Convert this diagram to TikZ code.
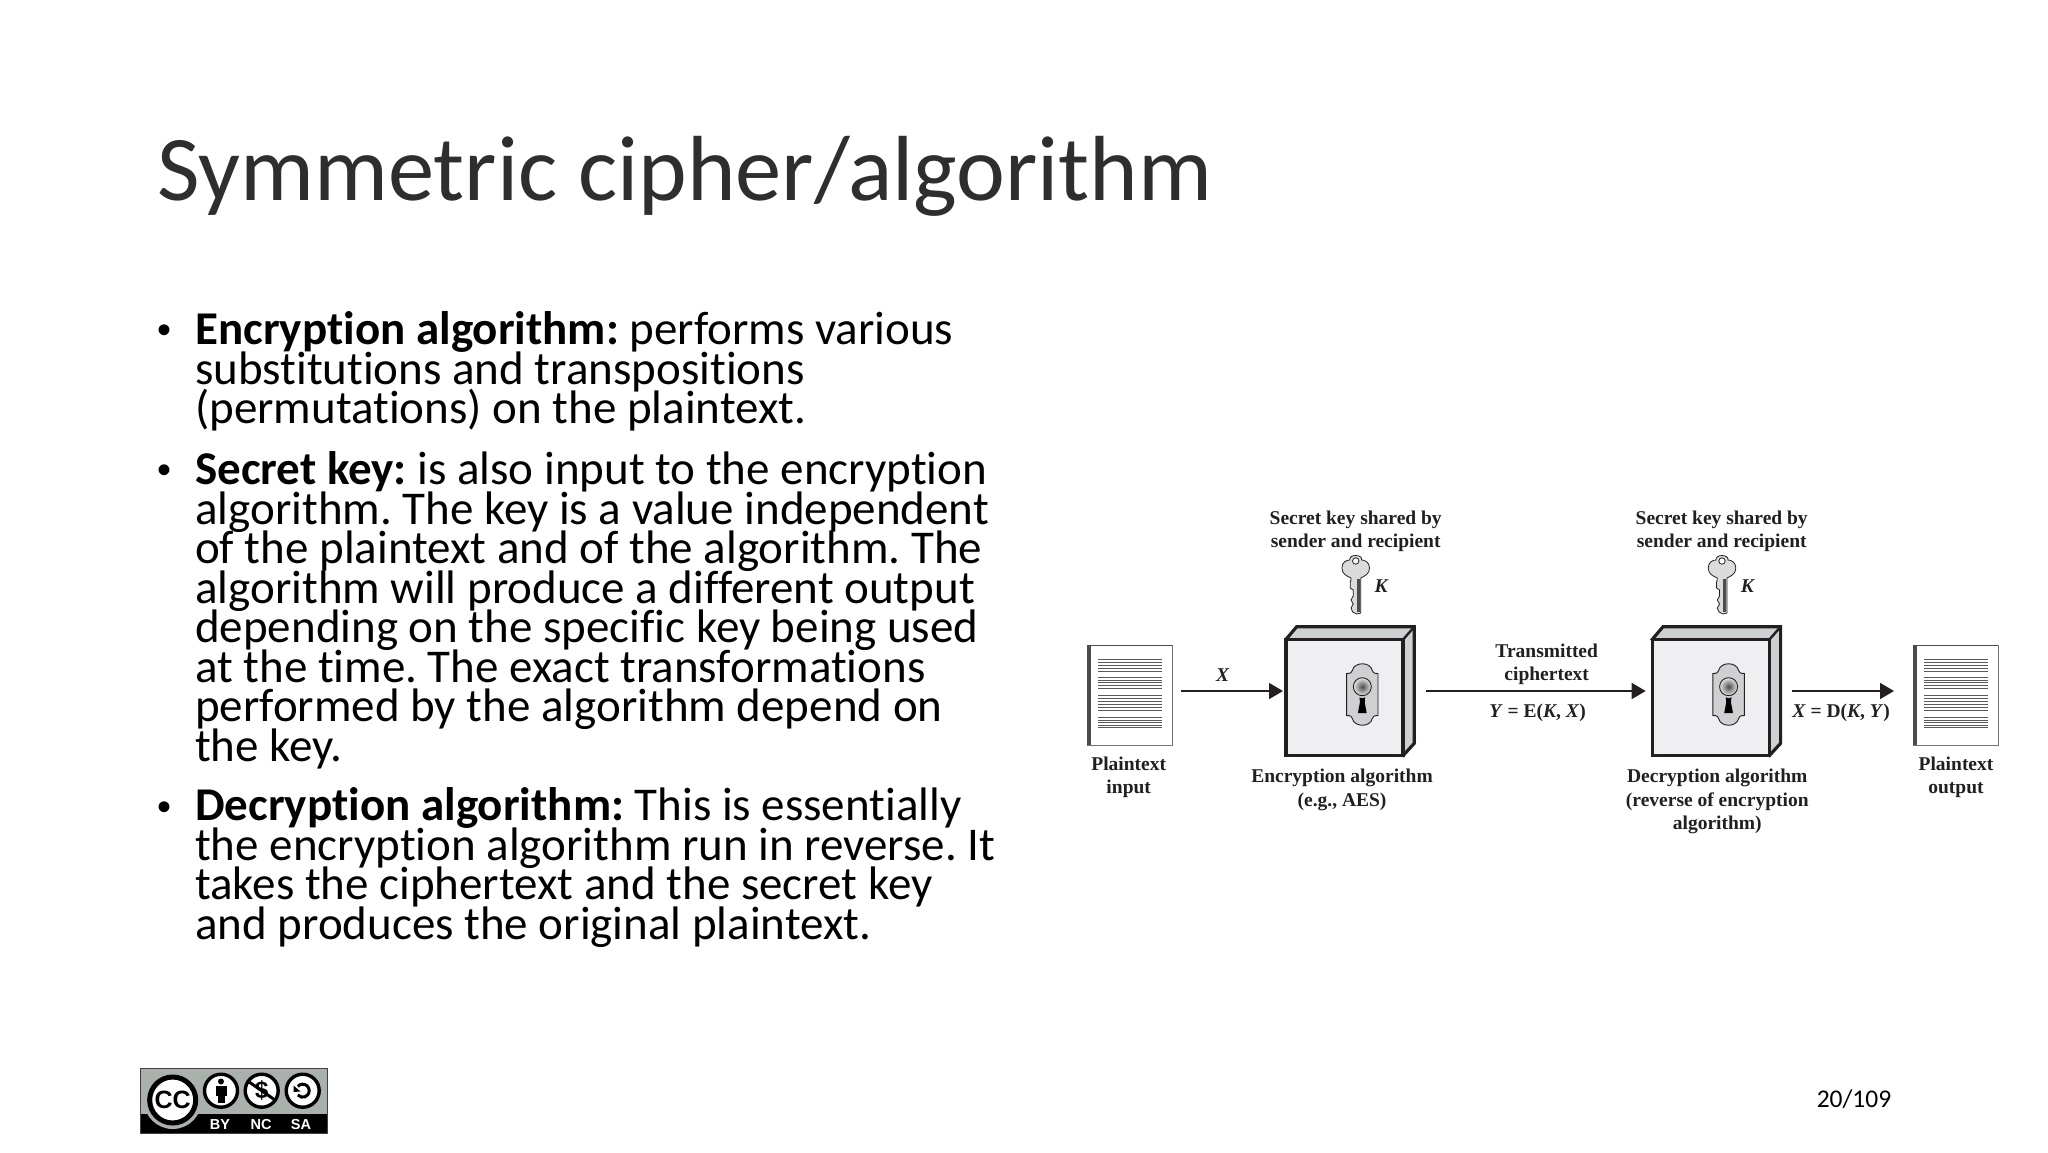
\documentclass[tikz,border=0pt]{standalone}
\usepackage{fontspec}
\setmainfont[Ligatures=CommonOff]{Carlito}
\newfontfamily\dgmfont{Liberation Serif}
\newfontfamily\logofont{Liberation Sans}
\usetikzlibrary{arrows.meta}
\AtBeginDocument{\frenchspacing\lineskiplimit=-200pt\relax}
\definecolor{boxfront}{HTML}{EFEFF1}
\definecolor{boxside}{HTML}{CFD0D2}
\definecolor{ink}{HTML}{231F20}
\definecolor{logogray}{HTML}{AAB0AC}
\tikzset{
  bodytext/.style={anchor=north west,inner sep=0pt,align=left,font=\fontsize{47}{39.5}\selectfont,text=black},
  bullet/.style={anchor=base,inner sep=0pt,font=\logofont\fontsize{40}{40}\selectfont},
  dlabel/.style={inner sep=0pt,align=center,text=ink,font=\dgmfont\bfseries\fontsize{19.5}{23.3}\selectfont},
  dmath/.style={dlabel,font=\dgmfont\bfseries\itshape\fontsize{19.5}{23.3}\selectfont},
  docbox/.style={draw=black!55,line width=1pt,fill=white,minimum width=85pt,minimum height=100pt,inner sep=0pt},
  frontbox/.style={draw=ink,line width=3.6pt,fill=boxfront,minimum width=117pt,minimum height=116pt,inner sep=0pt},
  flow/.style={draw=ink,line width=1.5pt,-{Triangle[length=14pt,width=16pt]}},
  logocircle/.style={draw=black,line width=3.4pt,fill=white},
  logotext/.style={inner sep=0pt,text=white,font=\logofont\bfseries\fontsize{14.5}{16}\selectfont},
  lockpic/.pic={
    \draw[draw=ink,line width=0.9pt,fill=boxside]
      (-15.7,-21) .. controls (-12,-21) and (-10,-22) .. (-10,-24)
      .. controls (-8,-33) and (8,-33) .. (10,-24)
      .. controls (10,-22) and (12,-21) .. (15.7,-21) -- (15.7,21)
      .. controls (12,21) and (10,22) .. (10,24)
      .. controls (8,33) and (-8,33) .. (-10,24)
      .. controls (-10,22) and (-12,21) .. (-15.7,21) -- cycle;
    \shade[inner color=black!70,outer color=black!10] (0,-7.8) circle (9);
    \draw[ink,line width=0.9pt] (0,-7.8) circle (9);
    \fill[black] (-2.8,2.5) .. controls (-2.8,4) and (2.8,4) .. (2.8,2.5)
      .. controls (2.8,5) and (2.2,6) .. (2.4,8) -- (4.4,18.5) -- (-4.4,18.5) -- (-2.4,8)
      .. controls (-2.2,6) and (-2.8,5) .. (-2.8,2.5) -- cycle;
  },
  keypic/.pic={
    \draw[draw=ink,line width=0.8pt,fill=black!14]
      (-4.7,10) .. controls (-9,8) and (-13.8,6) .. (-13.8,0)
      .. controls (-13.8,-6) and (-9,-8) .. (-6,-8)
      .. controls (-7,-14) and (7,-14) .. (6,-8)
      .. controls (9,-8) and (13.8,-6) .. (13.8,0)
      .. controls (13.8,6) and (9,8) .. (5,10)
      -- (5,45) -- (1,46) -- (-3,44) -- (-4.7,40) -- (-2.5,36) -- (-4.7,32)
      -- (-2.5,28) -- (-2.5,22) -- (-5.5,20) -- (-5.5,14) -- (-4.7,12) -- cycle;
    \draw[draw=ink,line width=0.8pt,fill=white] (0,-7) circle (3.2);
    \fill[black!70] (1,11) rectangle (4,44);
  },
  docpic/.pic={
    \foreach \ly in {14,17,20,23,26,32.3,35,37.7,40.3,43,50.7,53.7,56.7,59.7,62.7,65.7,72.3,75,77.6,80.2,82.7}
      \draw[black!65,line width=1pt] (11,\ly) -- (75,\ly);
    \draw[black!70,line width=3.6pt] (1.8,0) -- (1.8,100);
    \draw[black!70,line width=1.6pt] (0,0.4) -- (85,0.4);
  }
}
\begin{document}
\begin{tikzpicture}[x=1pt,y=-1pt]
\useasboundingbox (0,0) rectangle (2048,1152);
\fill[white] (0,0) rectangle (2048,1152);

% title
\node[anchor=base west,inner sep=0pt,font=\fontsize{92.5}{100}\selectfont,text=black!82] (title) at (157,200) {Symmetric cipher/algorithm};

% body
\node[bullet] (b1) at (164.5,343) {•};
\node[bodytext] (p1) at (195,311.5) {\textbf{Encryption algorithm:} performs various\\substitutions and transpositions\\(permutations) on the plaintext.};
\node[bullet] (b2) at (164.5,483) {•};
\node[bodytext] (p2) at (195,451.5) {\textbf{Secret key:} is also input to the encryption\\algorithm. The key is a value independent\\of the plaintext and of the algorithm. The\\algorithm will produce a different output\\depending on the specific key being used\\at the time. The exact transformations\\performed by the algorithm depend on\\the key.};
\node[bullet] (b3) at (164.5,820) {•};
\node[bodytext] (p3) at (195,787.5) {\textbf{Decryption algorithm:} This is essentially\\the encryption algorithm run in reverse. It\\takes the ciphertext and the secret key\\and produces the original plaintext.};

% page number
\node[inner sep=0pt,font=\fontsize{25.5}{28}\selectfont] (pg) at (1854,1099) {20/109};

% documents
\node[docbox] (doc1) at (1129.7,695) {};
\pic at (1087.2,645) {docpic};
\node[docbox] (doc2) at (1955.7,695) {};
\pic at (1913.2,645) {docpic};

% boxes
\foreach \bx/\bn in {0/box1,366.3/box2}{
  \begin{scope}[xshift=\bx pt]
    \draw[draw=ink,line width=3.2pt,line join=miter,fill=boxside]
      (1286,639.3) -- (1296.7,626.7) -- (1414.3,626.7) -- (1414.3,743.3) -- (1403.3,755.3) -- cycle;
    \draw[draw=ink,line width=2.4pt] (1403.3,639.3) -- (1414.3,626.7);
    \node[frontbox] (\bn) at (1344.6,697.3) {};
    \pic at (1362.3,694.5) {lockpic};
    \pic at (1355.7,568) {keypic};
  \end{scope}
}

% free ends of the arrows
\coordinate (a1s) at (1181,691);
\coordinate (a1e) at (1283,691);
\coordinate (a2s) at (1425.7,691);
\coordinate (a2e) at (1645.7,691);
\coordinate (a3s) at (1792.3,691);
\coordinate (a3e) at (1894,691);
\draw[flow] (a1s) -- (a1e);
\draw[flow] (a2s) -- (a2e);
\draw[flow] (a3s) -- (a3e);

% labels
\node[dlabel] (sk1) at (1355.7,531) {Secret key shared by\\sender and recipient};
\node[dlabel] (sk2) at (1721.7,531) {Secret key shared by\\sender and recipient};
\node[dmath] (k1) at (1381,586) {K};
\node[dmath] (k2) at (1747.3,586) {K};
\node[dmath] (xl) at (1222.7,675.5) {X};
\node[dlabel] (pi) at (1128.7,777.5) {Plaintext\\input};
\node[dlabel] (po) at (1956,777.5) {Plaintext\\output};
\node[dlabel] (ea) at (1342,790) {Encryption algorithm\\(e.g., AES)};
\node[dlabel] (da) at (1717.3,801.5) {Decryption algorithm\\(reverse of encryption\\algorithm)};
\node[dlabel] (tc) at (1546.7,664.5) {Transmitted\\ciphertext};
\node[dlabel] (yl) at (1537.6,712.5) {\textit{Y} = E(\textit{K}, \textit{X})};
\node[dlabel] (xd) at (1841,712.5) {\textit{X} = D(\textit{K}, \textit{Y})};

% licence badge
\fill[logogray] (140.7,1068.3) rectangle (327.3,1133.3);
\draw[black!75,line width=0.8pt] (140.7,1068.3) rectangle (327.3,1133.3);
\fill[black] (140.7,1114) rectangle (327.3,1133.3);
\fill[logogray] (172.7,1100) circle (29);
\node[logocircle,circle,line width=5pt,minimum size=46pt,inner sep=0pt,font=\logofont\bfseries\fontsize{25}{25}\selectfont] (cc) at (172.7,1100) {CC};
\node[logocircle,circle,minimum size=33pt,inner sep=0pt] (by) at (221,1090.7) {};
\node[logocircle,circle,minimum size=33pt,inner sep=0pt,font=\logofont\bfseries\fontsize{24}{24}\selectfont] (nc) at (261.7,1090.7) {\$};
\node[logocircle,circle,minimum size=33pt,inner sep=0pt] (sa) at (302.7,1090.7) {};
\fill[black] (221,1081.5) circle (3);
\fill[black] (215.5,1086) rectangle (226.5,1096);
\fill[black] (217.5,1095) rectangle (224.5,1103);
\draw[black,line width=3pt] (248.5,1081.5) -- (275,1100);
\draw[black,line width=3pt] (297.8,1086.4) arc[start angle=221,end angle=499,radius=6.5];
\fill[black] (300.5,1091.5) -- (293.5,1085.5) -- (293.5,1092) -- cycle;
\node[logotext] (tby) at (220,1124) {BY};
\node[logotext] (tnc) at (261,1124) {NC};
\node[logotext] (tsa) at (301,1124) {SA};
\end{tikzpicture}
\end{document}
